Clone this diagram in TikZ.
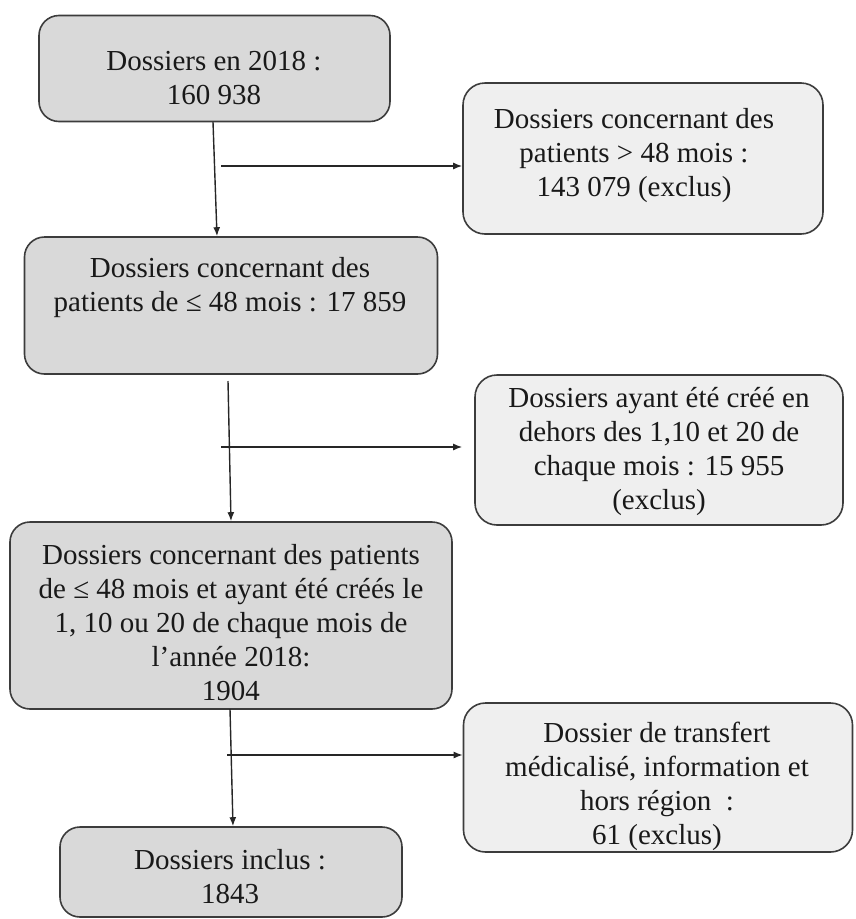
\documentclass[tikz,border=0pt]{standalone}
\usepackage{fontspec}
\setmainfont{Liberation Serif}
\usetikzlibrary{arrows.meta}
\definecolor{boxgray}{HTML}{D9D9D9}
\definecolor{boxlight}{HTML}{EFEFEF}
\definecolor{edgegray}{HTML}{3C3C3C}
\tikzset{
  gbox/.style={draw=edgegray, line width=1.6pt, fill=boxgray, rounded corners=20pt, inner sep=0pt},
  lbox/.style={draw=edgegray, line width=1.6pt, fill=boxlight, rounded corners=22pt, inner sep=0pt},
  txt/.style={align=center, inner sep=0pt, font=\fontsize{29}{34}\selectfont, text=black!90},
  arr/.style={draw=black!85, line width=1.4pt, -{Latex[length=9pt,width=7pt]}}
}
\begin{document}
\begin{tikzpicture}[x=1pt,y=-1pt]
\useasboundingbox (0,0) rectangle (855,919);
% left column
\node[gbox, minimum width=351pt, minimum height=106pt] (a) at (214.5,68.5) {};
\node[txt] (at) at (214,78) {Dossiers en 2018 :\\160 938};
\node[gbox, minimum width=413pt, minimum height=137pt] (c) at (231,305.5) {};
\node[txt] (ct) at (230,288) {Dossiers concernant des\\patients de ≤ 48 mois : 17 859};
\node[gbox, minimum width=442pt, minimum height=187pt] (e) at (231,615.5) {};
\node[txt] (et) at (231,623) {Dossiers concernant des patients\\de ≤ 48 mois et ayant été créés le\\1, 10 ou 20 de chaque mois de\\l’année 2018:\\1904};
\node[gbox, minimum width=342pt, minimum height=90pt] (g) at (231,872) {};
\node[txt] (gt) at (230,877) {Dossiers inclus :\\1843};
% right column
\node[lbox, minimum width=360pt, minimum height=151pt] (b) at (643,158.5) {};
\node[txt] (bt) at (634,156) {Dossiers concernant des\\patients > 48 mois :\\143 079 (exclus)};
\node[lbox, minimum width=368pt, minimum height=150pt] (d) at (659,450) {};
\node[txt] (dt) at (659,451) {Dossiers ayant été créé en\\dehors des 1,10 et 20 de\\chaque mois : 15 955\\(exclus)};
\node[lbox, minimum width=389pt, minimum height=149pt] (f) at (658,777.5) {};
\node[txt] (ft) at (657,786) {Dossier de transfert\\médicalisé, information et\\hors région~~:\\61 (exclus)};
% connectors
\coordinate (s1) at (213,122);
\coordinate (e1) at (217,0);
\draw[arr] (s1) -- (e1 |- c.north);
\coordinate (h1) at (221,166);
\draw[arr] (h1) -- (h1 -| b.west);
\coordinate (s2) at (228,381);
\coordinate (e2) at (231,0);
\draw[arr] (s2) -- (e2 |- e.north);
\coordinate (h2) at (221,447);
\draw[arr] (h2) -- (h2 -| b.west);
\coordinate (s3) at (230,709);
\coordinate (e3) at (233,0);
\draw[arr] (s3) -- (e3 |- g.north);
\coordinate (h3) at (227,755);
\draw[arr] (h3) -- (h3 -| f.west);
\end{tikzpicture}
\end{document}
